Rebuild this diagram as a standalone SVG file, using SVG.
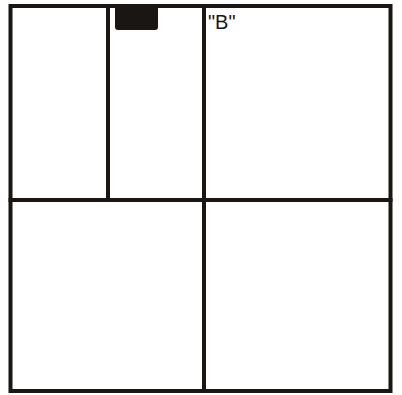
<svg xmlns="http://www.w3.org/2000/svg" width="402" height="395" viewBox="0 0 402 395">
<style>
.ln{stroke:#1a1614;stroke-width:4;fill:none;stroke-linecap:square}
.lbl{font-family:"Liberation Sans",Arial,sans-serif;font-size:20px;fill:#1a1614}
</style>
<rect width="402" height="395" fill="#fff"/>
<g id="frame">
<rect class="ln" x="10.5" y="6" width="380" height="385"/>
</g>
<g id="connectors">
<line class="ln" x1="204" y1="6" x2="204" y2="391"/>
<line class="ln" x1="10.5" y1="200" x2="390.5" y2="200"/>
<line class="ln" x1="108" y1="6" x2="108" y2="200"/>
</g>
<g id="block">
<path d="M115 6 H158 V27 Q158 30 155 30 H118 Q115 30 115 27 Z" fill="#1a1614"/>
</g>
<g id="labelB">
<text class="lbl" x="208" y="29">"B"</text>
</g>
</svg>
